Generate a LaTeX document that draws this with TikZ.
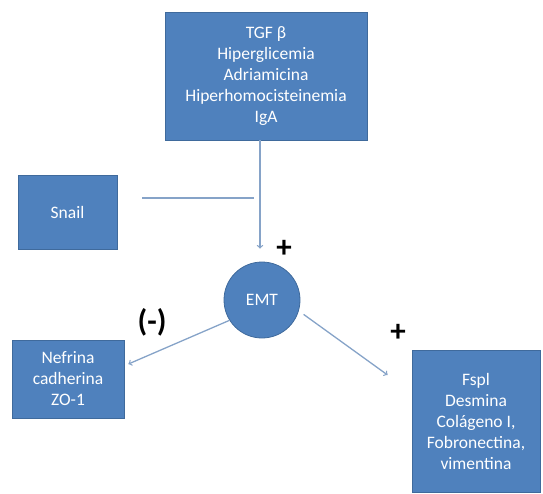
\documentclass[tikz,border=0pt]{standalone}
\usepackage{fontspec}
\setmainfont{Carlito}
\usetikzlibrary{arrows}
\definecolor{boxblue}{HTML}{4F81BD}
\definecolor{boxedge}{HTML}{3F6A9C}
\definecolor{linkblue}{HTML}{86A3C8}
\begin{document}
\begin{tikzpicture}[x=1pt,y=-1pt]
\tikzstyle{every node}=[inner sep=0pt, font=\fontsize{17.5}{21}\selectfont]
\tikzstyle{box}=[draw=boxedge, fill=boxblue, text=white, align=center, line width=.8pt]
\tikzstyle{sign}=[text=black, font=\fontsize{31}{31}\selectfont\bfseries]
\tikzstyle{link}=[draw=linkblue, line width=1.3pt]
\useasboundingbox (0,0) rectangle (543,493);
\draw (266,76) node (tgf) [box, minimum width=202pt, minimum height=128pt] {TGF β\\Hiperglicemia\\Adriamicina\\Hiperhomocisteinemia\\IgA};
\draw (67.5,212) node (snail) [box, minimum width=99pt, minimum height=74pt] {Snail};
\draw (262,300) node (emt) [box, circle, minimum size=76pt] {EMT};
\draw (68,379) node (nefrina) [box, minimum width=112pt, minimum height=78pt] {Nefrina\\cadherina\\ZO-1};
\draw (476,421) node (fspl) [box, minimum width=128pt, minimum height=142pt] {Fspl\\Desmina\\Colágeno I,\\Fobronectina,\\vimentina};
\coordinate (block) at (254,198);
\draw (284,249) node (s1) [sign] {+};
\draw (152,322) node (s2) [sign] {(-)};
\draw (398,333) node (s3) [sign] {+};
\draw [link] ([xshift=25pt,yshift=14pt]snail.east) -- (block);
\draw [link,->] ([xshift=-6pt]tgf.south) -- ([xshift=-2pt,yshift=13pt]emt.north);
\draw [link,->] (emt.212) -- ([xshift=4pt,yshift=15pt]nefrina.east);
\draw [link,->] ([xshift=6pt]emt.-22) -- ([xshift=-24pt,yshift=46pt]fspl.west);
\end{tikzpicture}
\end{document}
